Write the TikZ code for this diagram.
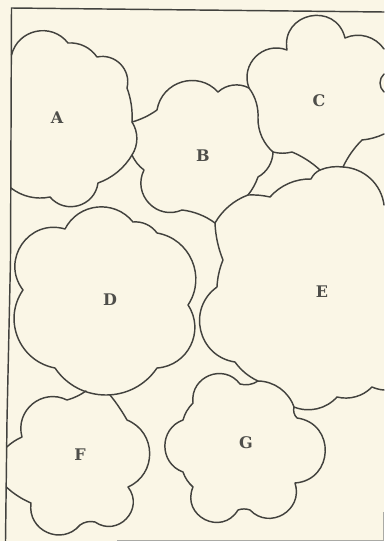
\documentclass[tikz,border=0pt]{standalone}
\usepackage{xcolor}
\usepackage{fontspec}
\newfontfamily\labelfont{DejaVu Serif}
\definecolor{paper}{RGB}{250,246,230}
\definecolor{ink}{RGB}{66,66,62}
\definecolor{labelink}{RGB}{78,78,74}
\definecolor{faint}{RGB}{170,170,165}
\tikzset{
  lb/.code={\pgfmathsetmacro\lobeloose{(2/3)*tan(#1/2)/sin(#1)/0.3915}\tikzset{bend left=#1,looseness=\lobeloose}},
  rb/.code={\pgfmathsetmacro\lobeloose{(2/3)*tan(#1/2)/sin(#1)/0.3915}\tikzset{bend right=#1,looseness=\lobeloose}},
  outline/.style={draw=ink,line width=1.45pt,line join=round,line cap=round},
  lbl/.style={text=labelink,font=\labelfont\bfseries\fontsize{16}{16}\selectfont,inner sep=0pt},
}
\begin{document}
\begin{tikzpicture}[x=1pt,y=1pt]
\fill[paper] (0,0) rectangle (384,-541);
\useasboundingbox (0,0) rectangle (384,-541);
% frame
\draw[outline] (384,-12) -- (11.5,-8) -- (10.5,-260) -- (7,-420) -- (5.5,-541);
\draw[faint,line width=0.8pt] (117,-540) -- (384,-540);
\draw[faint,line width=0.8pt] (383,-512) -- (383,-541);
% A
\draw[outline] (11.5,-55) to[lb=64] (68,-43) to[lb=30] (97,-57) to[lb=58] (127,-88)
  to[lb=12] (132,-122) to[lb=33] (132,-155) to[lb=20] (98,-183) to[lb=66] (50,-197)
  to[lb=25] (11,-188);
% B
\draw[outline] (132,-122) to[rb=10] (157,-110) to[lb=64] (218,-92) to[lb=35] (249,-88);
\draw[outline] (273,-152) to[lb=30] (258,-177) to[lb=10] (248,-195);
\draw[outline] (215,-223) to[rb=15] (182,-210) to[lb=70] (144,-170) to[lb=15] (132,-155);
% C
\draw[outline] (249,-88) to[lb=66] (287,-50) to[lb=88] (345,-38) to[lb=40] (384,-49);
\draw[outline] (384,-74) to[rb=48] (384,-92);
\draw[outline] (384,-134) to[lb=10] (362,-140) to[rb=10] (343,-167);
\draw[outline] (320,-170) to[rb=10] (292,-152) to[lb=15] (273,-152) to[lb=25] (258,-118)
  to[rb=20] (249,-88);
% E
\draw[outline] (248,-195) to[lb=8] (270,-197) to[lb=25] (311,-179) to[lb=20] (320,-170)
  to[lb=15] (343,-167) to[lb=40] (384,-205);
\draw[outline] (384,-390) to[lb=10] (372,-387) to[lb=30] (337,-397) to[lb=35] (294,-407);
\draw[outline] (258,-381) to[lb=15] (235,-362) to[lb=68] (217,-287) to[lb=10] (223,-260)
  to[lb=10] (215,-223) to[lb=20] (248,-195);
% G
\draw[outline] (258,-381) to[lb=35] (294,-407) to[rb=30] (297,-418) to[lb=84] (295,-483)
  to[lb=77] (250,-510) to[rb=20] (238,-510) to[lb=86] (193,-487) to[lb=15] (183,-472)
  to[lb=70] (183,-420) to[lb=15] (193,-403) to[lb=75] (240,-384) to[rb=25] (258,-381);
% D
\draw[outline] (23,-290) to[lb=72] (65,-229) to[lb=57] (133,-222) to[lb=30] (157,-233)
  to[lb=57] (188,-305) to[lb=60] (157,-368) to[lb=56] (55,-368) to[lb=57] cycle;
% F
\draw[outline] (6.8,-447) to[lb=10] (22,-437) to[lb=66] (67,-400) to[rb=10] (86,-391);
\draw[outline] (110,-395) to[lb=5] (127,-420) to[lb=67] (128,-487) to[lb=81] (95,-522)
  to[rb=25] (80,-525) to[lb=74] (31,-503) to[lb=10] (6.3,-487);
% labels
\node[lbl] (A) at (57,-118) {A};
\node[lbl] (B) at (203,-156) {B};
\node[lbl] (C) at (319,-101) {C};
\node[lbl] (D) at (110,-300) {D};
\node[lbl] (E) at (322,-292) {E};
\node[lbl] (F) at (80,-455) {F};
\node[lbl] (G) at (246,-443) {G};
\end{tikzpicture}
\end{document}
